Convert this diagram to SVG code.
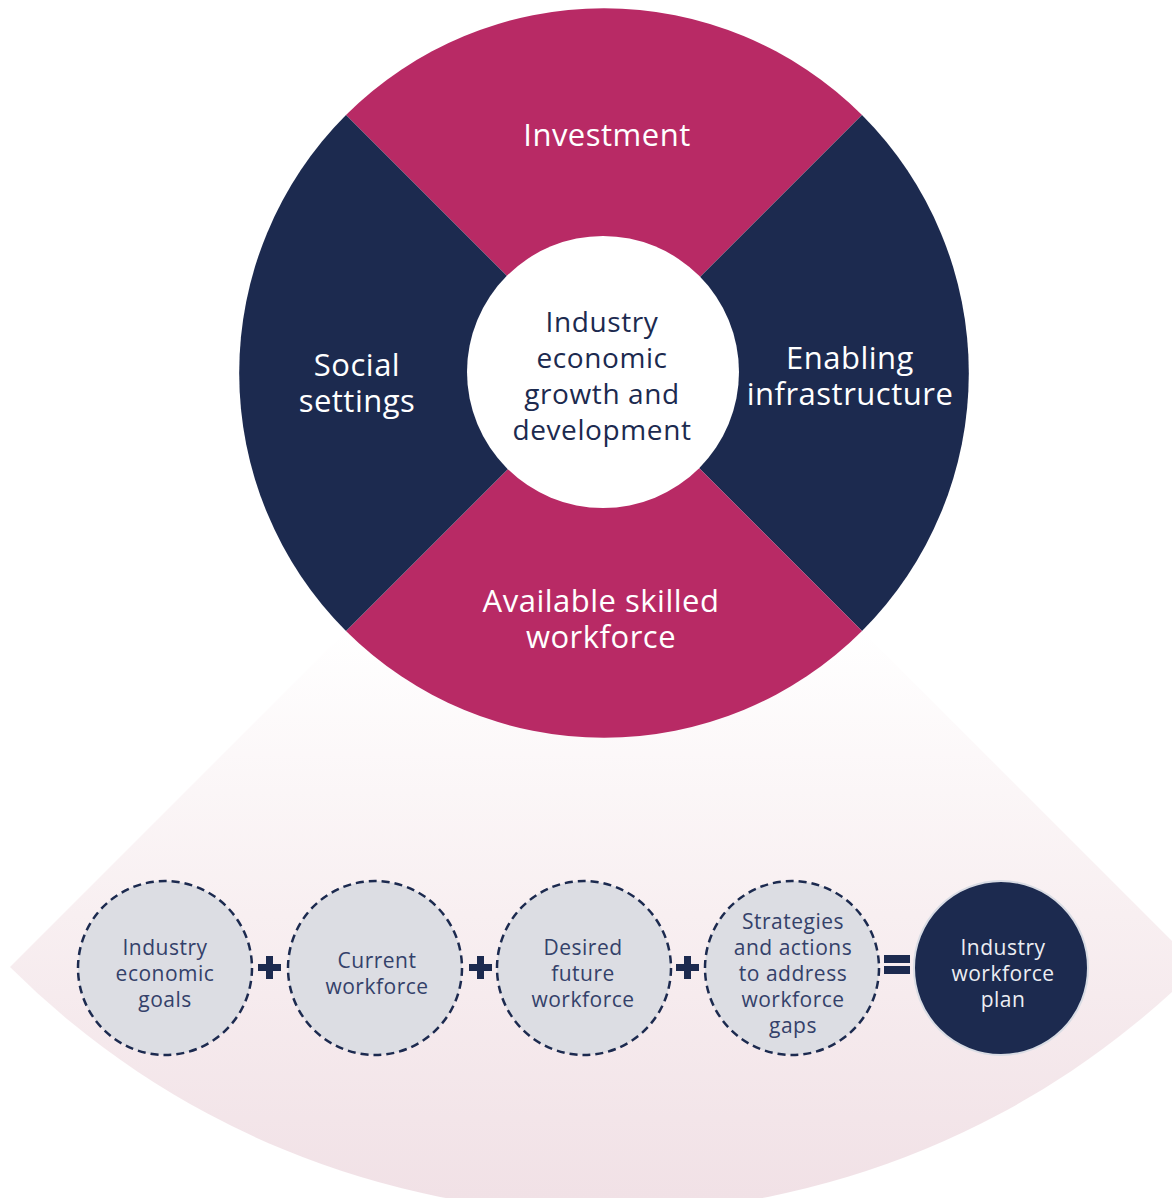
<svg xmlns="http://www.w3.org/2000/svg" width="1172" height="1198" viewBox="0 0 1172 1198">
  <style>
    .seg-m { fill: #b82a65; }
    .seg-n { fill: #1c2a4f; }
    .lbl { font-family: "Open Sans", "Noto Sans", "Liberation Sans", sans-serif; font-size: 31px; letter-spacing: 0.5px; fill: #ffffff; text-anchor: middle; }
    .ctr { font-family: "Open Sans", "Noto Sans", "Liberation Sans", sans-serif; font-size: 28px; letter-spacing: 0.6px; fill: #1c2a4f; text-anchor: middle; }
    .dash { fill: #dcdde3; stroke: #1c2a4f; stroke-width: 2.5; stroke-dasharray: 8 5; }
    .small { font-family: "Open Sans", "Noto Sans", "Liberation Sans", sans-serif; font-size: 21px; letter-spacing: 0.5px; fill: #34416a; text-anchor: middle; }
    .small-w { font-family: "Open Sans", "Noto Sans", "Liberation Sans", sans-serif; font-size: 21px; letter-spacing: 0.5px; fill: #eceef3; text-anchor: middle; }
    .op { fill: #1c2a4f; }
  </style>
  <defs>
    <linearGradient id="fanGrad" gradientUnits="userSpaceOnUse" x1="0" y1="631" x2="0" y2="1198">
      <stop offset="0" stop-color="#ffffff"/>
      <stop offset="0.5" stop-color="#f8eff1"/>
      <stop offset="1" stop-color="#f1e1e6"/>
    </linearGradient>
  </defs>

  <!-- fan behind -->
  <g id="fan">
    <path d="M604 373 L10 967 A840 840 0 0 0 1198 967 Z" fill="url(#fanGrad)"/>
  </g>

  <!-- wheel -->
  <g id="wheel">
    <g id="investment">
      <path class="seg-m" d="M604 373 L346 115 A365 365 0 0 1 862 115 Z"/>
      <text class="lbl" x="607" y="146">Investment</text>
    </g>
    <g id="enabling-infrastructure">
      <path class="seg-n" d="M604 373 L862 115 A365 365 0 0 1 862 631 Z"/>
      <text class="lbl" x="850" y="369">Enabling</text>
      <text class="lbl" x="850" y="405">infrastructure</text>
    </g>
    <g id="available-skilled-workforce">
      <path class="seg-m" d="M604 373 L862 631 A365 365 0 0 1 346 631 Z"/>
      <text class="lbl" x="601" y="612">Available skilled</text>
      <text class="lbl" x="601" y="648">workforce</text>
    </g>
    <g id="social-settings">
      <path class="seg-n" d="M604 373 L346 631 A365 365 0 0 1 346 115 Z"/>
      <text class="lbl" x="357" y="376">Social</text>
      <text class="lbl" x="357" y="412">settings</text>
    </g>
    <g id="centre">
      <circle cx="603" cy="372" r="136" fill="#ffffff"/>
      <text class="ctr" x="602" y="332">Industry</text>
      <text class="ctr" x="602" y="368">economic</text>
      <text class="ctr" x="602" y="404">growth and</text>
      <text class="ctr" x="602" y="440">development</text>
    </g>
  </g>

  <!-- operators (connectors) -->
  <g id="connectors">
    <path class="op" d="M266 956 h7 v8 h8 v7 h-8 v8 h-7 v-8 h-8 v-7 h8 Z"/>
    <path class="op" d="M477 956 h7 v8 h8 v7 h-8 v8 h-7 v-8 h-8 v-7 h8 Z"/>
    <path class="op" d="M684 956 h7 v8 h8 v7 h-8 v8 h-7 v-8 h-8 v-7 h8 Z"/>
    <rect class="op" x="884" y="955" width="26" height="8"/>
    <rect class="op" x="884" y="966" width="26" height="8"/>
  </g>

  <g id="node-goals">
    <circle class="dash" cx="165" cy="968" r="87"/>
    <text class="small" x="165" y="955">Industry</text>
    <text class="small" x="165" y="981">economic</text>
    <text class="small" x="165" y="1007">goals</text>
  </g>
  <g id="node-current">
    <circle class="dash" cx="375" cy="968" r="87"/>
    <text class="small" x="377" y="968">Current</text>
    <text class="small" x="377" y="994">workforce</text>
  </g>
  <g id="node-desired">
    <circle class="dash" cx="584" cy="968" r="87"/>
    <text class="small" x="583" y="955">Desired</text>
    <text class="small" x="583" y="981">future</text>
    <text class="small" x="583" y="1007">workforce</text>
  </g>
  <g id="node-strategies">
    <circle class="dash" cx="792" cy="968" r="87"/>
    <text class="small" x="793" y="929">Strategies</text>
    <text class="small" x="793" y="955">and actions</text>
    <text class="small" x="793" y="981">to address</text>
    <text class="small" x="793" y="1007">workforce</text>
    <text class="small" x="793" y="1033">gaps</text>
  </g>
  <g id="node-plan">
    <circle cx="1001" cy="968" r="87" fill="#1c2a4f" stroke="#d9dce4" stroke-width="2"/>
    <text class="small-w" x="1003" y="955">Industry</text>
    <text class="small-w" x="1003" y="981">workforce</text>
    <text class="small-w" x="1003" y="1007">plan</text>
  </g>
</svg>
